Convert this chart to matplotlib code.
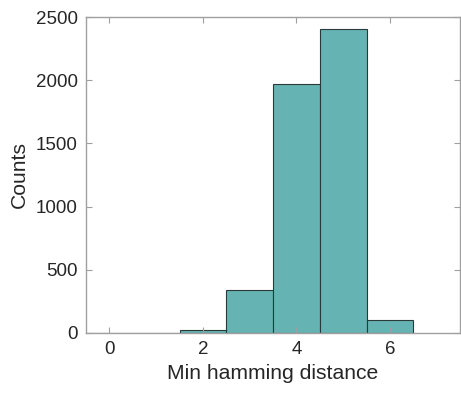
import matplotlib.pyplot as plt

plt.rcParams['font.family'] = ['Liberation Sans', 'DejaVu Sans']

distances = [0, 1, 2, 3, 4, 5, 6]
counts = [0, 3, 24, 340, 1967, 2405, 103]

fig = plt.figure(figsize=(4.61, 4.01), dpi=100)
ax = fig.add_axes([0.1866, 0.1696, 0.8114, 0.7880])

ax.bar(distances, counts, width=1.0, color='#66b3b3', edgecolor='#2a3a3a', linewidth=0.8)

ax.set_xlim(-0.5, 7.5)
ax.set_ylim(0, 2500)
ax.set_xticks([0, 2, 4, 6])
ax.set_yticks([0, 500, 1000, 1500, 2000, 2500])

axis_grey = '#a0a0a0'
for s in ax.spines.values():
    s.set_color(axis_grey)
    s.set_linewidth(1.0)
ax.tick_params(direction='in', length=4, width=0.8, color=axis_grey,
               top=True, right=True, labelsize=13.5, labelcolor='#262626', pad=6)

ax.set_xlabel('Min hamming distance', fontsize=15.2, color='#262626', labelpad=4)
ax.set_ylabel('Counts', fontsize=15.2, color='#262626', labelpad=5)

fig.savefig('out.png', dpi=100)
